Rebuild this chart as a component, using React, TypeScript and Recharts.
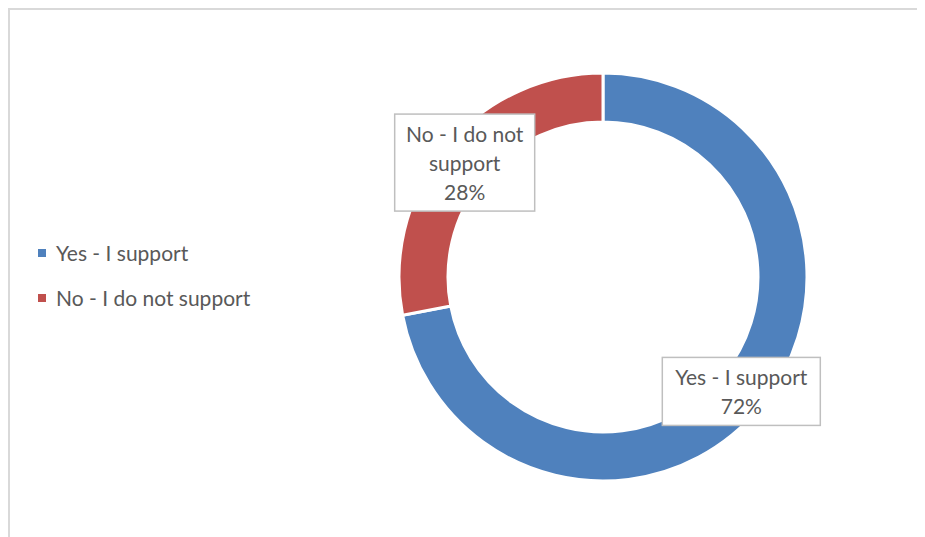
import { PieChart, Pie, Cell } from 'recharts';

const categories = ['Yes - I support', 'No - I do not support'];
const shares = [72, 28];
const colors = ['#4F81BD', '#C0504D'];
const labelLines = [['Yes - I support'], ['No - I do not', 'support']];

const data = categories.map((name, i) => ({ name, value: shares[i] }));

const FONT = 'Lato, "Open Sans", sans-serif';
const TEXT = '#595959';
const RAD = Math.PI / 180;

const renderLabel = (props: any) => {
  const { cx, cy, midAngle, innerRadius, outerRadius, index, value } = props;
  const r = (innerRadius + outerRadius) / 2;
  const x = cx + r * Math.cos(-midAngle * RAD);
  const y = cy + r * Math.sin(-midAngle * RAD);
  const lines = [...labelLines[index], `${value}%`];
  const w = index === 0 ? 158 : 140;
  const lh = 29;
  const h = lines.length * lh + 10;
  return (
    <g>
      <rect x={x - w / 2} y={y - h / 2} width={w} height={h} fill="#fff" stroke="#BFBFBF" strokeWidth={1.5} />
      {lines.map((t, i) => (
        <text
          key={i}
          x={x}
          y={y - h / 2 + 5 + lh * i + lh / 2}
          textAnchor="middle"
          dominantBaseline="central"
          fill={TEXT}
          fontSize={21}
          fontFamily={FONT}
        >
          {t}
        </text>
      ))}
    </g>
  );
};

export default function App() {
  return (
    <div style={{ position: 'relative', width: 917, height: 529, borderTop: '2px solid #D9D9D9', borderLeft: '2px solid #D9D9D9', background: '#fff' }}>
      {/* legend */}
      <div style={{ position: 'absolute', left: 28, top: 220, fontFamily: FONT, fontSize: 21, color: TEXT }}>
        {categories.map((c, i) => (
          <div key={c} style={{ display: 'flex', alignItems: 'center', height: 45 }}>
            <span style={{ width: 8, height: 8, background: colors[i], marginRight: 10, display: 'inline-block' }} />
            {c}
          </div>
        ))}
      </div>
      <PieChart width={915} height={527} margin={{ top: 0, right: 0, bottom: 0, left: 0 }}>
        <Pie
          data={data}
          dataKey="value"
          nameKey="name"
          cx={593}
          cy={267}
          innerRadius={155}
          outerRadius={204}
          startAngle={90}
          endAngle={-270}
          stroke="#fff"
          strokeWidth={3}
          label={renderLabel}
          labelLine={false}
          isAnimationActive={false}
        >
          {data.map((d, i) => (
            <Cell key={d.name} fill={colors[i]} />
          ))}
        </Pie>
      </PieChart>
    </div>
  );
}
